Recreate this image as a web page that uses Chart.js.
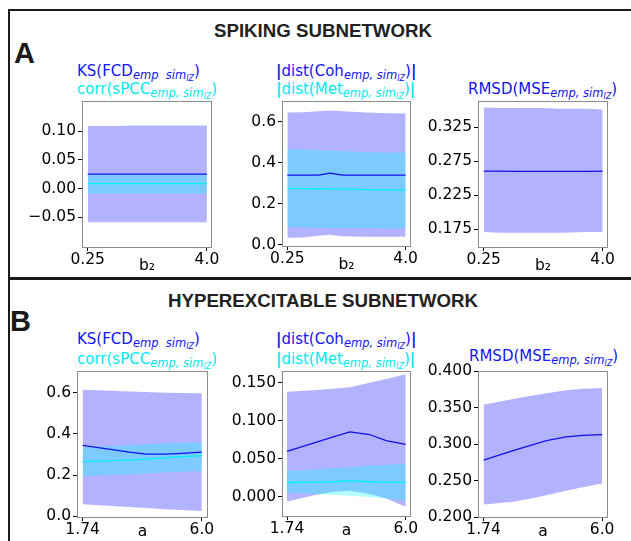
<!DOCTYPE html>
<html>
<head>
<meta charset="utf-8">
<script src="https://cdn.jsdelivr.net/npm/chart.js@4.4.1/dist/chart.umd.min.js"></script>
<style>
  body { margin: 0; width: 631px; height: 541px; background: #fff; position: relative; overflow: hidden; font-family: "DejaVu Sans", sans-serif; }
  canvas { position: absolute; }
  .rule { position: absolute; background: #1a1a1a; }
  .hd { position: absolute; font: bold 18.7px "Liberation Sans", Arial, sans-serif; line-height: 20px; color: #222; white-space: nowrap; }
  .big { position: absolute; font: bold 29px "Liberation Sans", Arial, sans-serif; line-height: 32px; color: #1a1a1a; }
  .t { position: absolute; font-size: 15px; line-height: 18px; white-space: nowrap; }
  .t sub { font-size: 11.5px; font-style: italic; vertical-align: -3px; line-height: 0; }
  .t sub sub { font-size: 8px; vertical-align: -2px; }
  .blue { color: #1414f0; }
  .cyan { color: #00eaf2; }
</style>
</head>
<body>
<div class="rule" style="left:8px;top:9px;width:623px;height:2px"></div>
<div class="rule" style="left:8px;top:9px;width:2px;height:532px"></div>
<div class="rule" style="left:8px;top:277px;width:623px;height:3px"></div>

<div class="hd" style="left:0;width:646px;text-align:center;top:21px">SPIKING SUBNETWORK</div>
<div class="hd" style="left:0;width:646px;text-align:center;top:291px">HYPEREXCITABLE SUBNETWORK</div>
<div class="big" style="left:14px;top:37px">A</div>
<div class="big" style="left:10px;top:305px">B</div>

<div class="t blue" style="left:77px;top:62px">KS(FCD<sub>emp&nbsp; sim<sub>IZ</sub></sub>)</div>
<div class="t cyan" style="left:77px;top:80px">corr(sPCC<sub>emp, sim<sub>IZ</sub></sub>)</div>
<div class="t blue" style="left:276px;top:62px"><b>|</b>dist(Coh<sub>emp, sim<sub>IZ</sub></sub>)<b>|</b></div>
<div class="t cyan" style="left:276px;top:80px"><b>|</b>dist(Met<sub>emp, sim<sub>IZ</sub></sub>)<b>|</b></div>
<div class="t blue" style="left:468px;top:80px">RMSD(MSE<sub>emp, sim<sub>IZ</sub></sub>)</div>

<div class="t blue" style="left:77px;top:330px">KS(FCD<sub>emp&nbsp; sim<sub>IZ</sub></sub>)</div>
<div class="t cyan" style="left:77px;top:350px">corr(sPCC<sub>emp, sim<sub>IZ</sub></sub>)</div>
<div class="t blue" style="left:276px;top:330px"><b>|</b>dist(Coh<sub>emp, sim<sub>IZ</sub></sub>)<b>|</b></div>
<div class="t cyan" style="left:276px;top:350px"><b>|</b>dist(Met<sub>emp, sim<sub>IZ</sub></sub>)<b>|</b></div>
<div class="t blue" style="left:469px;top:347px">RMSD(MSE<sub>emp, sim<sub>IZ</sub></sub>)</div>

<canvas id="a1"></canvas>
<canvas id="a2"></canvas>
<canvas id="a3"></canvas>
<canvas id="b1"></canvas>
<canvas id="b2"></canvas>
<canvas id="b3"></canvas>

<script>
// parameter values (x axes)
const b2Vals = [0.25, 0.75, 1.25, 1.6, 2.0, 2.75, 3.5, 4.0];
const aVals = [1.74, 2.8, 3.4, 4.0, 4.7, 5.3, 6.0];
const b2Ticks = [0.25, 4.0];
const b2TickLabels = ["0.25", "4.0"];
const aTicks = [1.74, 6.0];
const aTickLabels = ["1.74", "6.0"];

// A - spiking subnetwork
const ksA = [0.025, 0.025, 0.025, 0.025, 0.025, 0.025, 0.025, 0.025];
const ksLoA = [-0.059, -0.059, -0.059, -0.059, -0.059, -0.059, -0.059, -0.059];
const ksHiA = [0.109, 0.109, 0.109, 0.11, 0.11, 0.11, 0.11, 0.11];
const corrA = [0.0085, 0.0085, 0.0085, 0.0085, 0.0085, 0.0085, 0.0085, 0.0085];
const corrLoA = [-0.009, -0.009, -0.009, -0.009, -0.009, -0.009, -0.009, -0.009];
const corrHiA = [0.024, 0.024, 0.024, 0.024, 0.024, 0.024, 0.024, 0.024];

const cohA = [0.34, 0.34, 0.34, 0.35, 0.34, 0.34, 0.34, 0.34];
const cohLoA = [0.035, 0.037, 0.045, 0.05, 0.043, 0.04, 0.04, 0.04];
const cohHiA = [0.645, 0.647, 0.652, 0.655, 0.652, 0.645, 0.642, 0.64];
const metA = [0.275, 0.275, 0.274, 0.273, 0.272, 0.27, 0.268, 0.267];
const metLoA = [0.085, 0.085, 0.084, 0.083, 0.082, 0.081, 0.08, 0.08];
const metHiA = [0.465, 0.465, 0.462, 0.46, 0.458, 0.452, 0.45, 0.45];

const mseA = [0.2605, 0.2603, 0.26, 0.26, 0.26, 0.2602, 0.26, 0.2605];
const mseLoA = [0.171, 0.17, 0.17, 0.17, 0.17, 0.17, 0.171, 0.171];
const mseHiA = [0.354, 0.353, 0.353, 0.353, 0.353, 0.352, 0.352, 0.351];

// B - hyperexcitable subnetwork
const ksB = [0.345, 0.324, 0.312, 0.302, 0.302, 0.306, 0.312];
const ksLoB = [0.058, 0.05, 0.045, 0.04, 0.034, 0.03, 0.025];
const ksHiB = [0.615, 0.61, 0.607, 0.604, 0.601, 0.6, 0.598];
const corrB = [0.265, 0.27, 0.273, 0.278, 0.284, 0.29, 0.295];
const corrLoB = [0.195, 0.2, 0.203, 0.207, 0.212, 0.216, 0.22];
const corrHiB = [0.335, 0.342, 0.346, 0.35, 0.354, 0.357, 0.36];

const cohB = [0.06, 0.072, 0.079, 0.0855, 0.082, 0.074, 0.069];
const cohLoB = [-0.006, 0.003, 0.007, 0.008, 0.004, -0.002, -0.013];
const cohHiB = [0.138, 0.1405, 0.142, 0.144, 0.15, 0.155, 0.161];
const metB = [0.019, 0.0195, 0.02, 0.021, 0.02, 0.0195, 0.019];
const metLoB = [0.006, 0.004, 0.003, 0.0015, 0.0, -0.002, -0.005];
const metHiB = [0.034, 0.036, 0.038, 0.039, 0.041, 0.042, 0.044];

const mseB = [0.278, 0.291, 0.298, 0.305, 0.31, 0.312, 0.313];
const mseLoB = [0.217, 0.221, 0.225, 0.23, 0.236, 0.241, 0.246];
const mseHiB = [0.354, 0.362, 0.366, 0.37, 0.374, 0.376, 0.377];

const BLUE = "#1010e6";
const CYAN = "#00f0ff";
const BLUE_FILL = "rgba(0, 0, 255, 0.3)";
const CYAN_FILL = "rgba(0, 255, 255, 0.3)";
const tickFont = { family: "DejaVu Sans", size: 15.5 };

// grey box round the plot area
const frame = {
  id: "frame",
  afterDatasetsDraw(chart) {
    const { ctx, chartArea: c } = chart;
    ctx.save();
    ctx.strokeStyle = "#8c8c8c";
    ctx.lineWidth = 1;
    ctx.strokeRect(Math.round(c.left) + 0.5, Math.round(c.top) + 0.5, Math.round(c.width) - 1, Math.round(c.height));
    ctx.restore();
  },
};

function pts(xs, ys) {
  return xs.map((x, i) => ({ x: x, y: ys[i] }));
}

function makePanel(id, box, xs, xRange, xTicks, xLabels, xTitle, titlePad, yRange, yTicks, yLabels, bands, lines) {
  const cv = document.getElementById(id);
  cv.width = box.w + 90;
  cv.height = box.h + 42;
  cv.style.left = box.x - 70 + "px";
  cv.style.top = box.y - 10 + "px";

  const datasets = [];
  bands.forEach((b, k) => {
    datasets.push({ data: pts(xs, b.lo), borderWidth: 0, fill: false, order: 10 - k });
    datasets.push({ data: pts(xs, b.hi), borderWidth: 0, backgroundColor: b.color, fill: "-1", order: 10 - k });
  });
  lines.forEach((l, k) => {
    datasets.push({ data: pts(xs, l.data), borderColor: l.color, borderWidth: 1.3, fill: false, order: 2 - k });
  });

  new Chart(cv, {
    type: "line",
    data: { datasets: datasets },
    plugins: [frame],
    options: {
      responsive: false,
      animation: false,
      layout: { padding: { top: 10, right: 20, left: 0, bottom: 0 } },
      elements: { point: { radius: 0 }, line: { tension: 0 } },
      plugins: { legend: { display: false }, tooltip: { enabled: false } },
      scales: {
        x: {
          type: "linear",
          min: xRange[0],
          max: xRange[1],
          bounds: "data",
          afterBuildTicks: (s) => { s.ticks = xTicks.map((v) => ({ value: v })); },
          afterFit: (s) => { s.height = 32; },
          ticks: { callback: (v, i) => xLabels[i], font: tickFont, color: "#000", padding: 0, maxRotation: 0, autoSkip: false },
          grid: { drawOnChartArea: false, tickLength: 4, tickColor: "#000", tickWidth: 1 },
          border: { display: false },
          title: { display: true, text: xTitle, font: tickFont, color: "#000", padding: { top: 0, bottom: titlePad } },
        },
        y: {
          type: "linear",
          min: yRange[0],
          max: yRange[1],
          bounds: "data",
          afterBuildTicks: (s) => { s.ticks = yTicks.map((v) => ({ value: v })); },
          afterFit: (s) => { s.width = 70; },
          ticks: { callback: (v, i) => yLabels[i], font: tickFont, color: "#000", padding: 2, autoSkip: false },
          grid: { drawOnChartArea: false, tickLength: 4, tickColor: "#000", tickWidth: 1 },
          border: { display: false },
        },
      },
    },
  });
}

makePanel("a1", { x: 82, y: 100, w: 130, h: 147 }, b2Vals, [0.07, 4.16], b2Ticks, b2TickLabels, "b₂", 4,
  [-0.102, 0.152], [-0.05, 0, 0.05, 0.1], ["−0.05", "0.00", "0.05", "0.10"],
  [{ lo: ksLoA, hi: ksHiA, color: BLUE_FILL }, { lo: corrLoA, hi: corrHiA, color: CYAN_FILL }],
  [{ data: ksA, color: BLUE }, { data: corrA, color: CYAN }]);

makePanel("a2", { x: 282, y: 100, w: 129, h: 146 }, b2Vals, [0.08, 4.17], b2Ticks, b2TickLabels, "b₂", 4,
  [-0.005, 0.7], [0, 0.2, 0.4, 0.6], ["0.0", "0.2", "0.4", "0.6"],
  [{ lo: cohLoA, hi: cohHiA, color: BLUE_FILL }, { lo: metLoA, hi: metHiA, color: CYAN_FILL }],
  [{ data: cohA, color: BLUE }, { data: metA, color: CYAN }]);

makePanel("a3", { x: 478, y: 100, w: 130, h: 147 }, b2Vals, [0.07, 4.17], b2Ticks, b2TickLabels, "b₂", 4,
  [0.149, 0.363], [0.175, 0.225, 0.275, 0.325], ["0.175", "0.225", "0.275", "0.325"],
  [{ lo: mseLoA, hi: mseHiA, color: BLUE_FILL }],
  [{ data: mseA, color: BLUE }]);

makePanel("b1", { x: 77, y: 370, w: 131, h: 147 }, aVals, [1.54, 6.22], aTicks, aTickLabels, "a", 8,
  [-0.004, 0.705], [0, 0.2, 0.4, 0.6], ["0.0", "0.2", "0.4", "0.6"],
  [{ lo: ksLoB, hi: ksHiB, color: BLUE_FILL }, { lo: corrLoB, hi: corrHiB, color: CYAN_FILL }],
  [{ data: ksB, color: BLUE }, { data: corrB, color: CYAN }]);

makePanel("b2", { x: 282, y: 370, w: 129, h: 146 }, aVals, [1.56, 6.19], aTicks, aTickLabels, "a", 8,
  [-0.025, 0.165], [0, 0.05, 0.1, 0.15], ["0.000", "0.050", "0.100", "0.150"],
  [{ lo: cohLoB, hi: cohHiB, color: BLUE_FILL }, { lo: metLoB, hi: metHiB, color: CYAN_FILL }],
  [{ data: cohB, color: BLUE }, { data: metB, color: CYAN }]);

makePanel("b3", { x: 478, y: 370, w: 130, h: 147 }, aVals, [1.54, 6.21], aTicks, aTickLabels, "a", 8,
  [0.2, 0.4], [0.2, 0.25, 0.3, 0.35, 0.4], ["0.200", "0.250", "0.300", "0.350", "0.400"],
  [{ lo: mseLoB, hi: mseHiB, color: BLUE_FILL }],
  [{ data: mseB, color: BLUE }]);
</script>
</body>
</html>
